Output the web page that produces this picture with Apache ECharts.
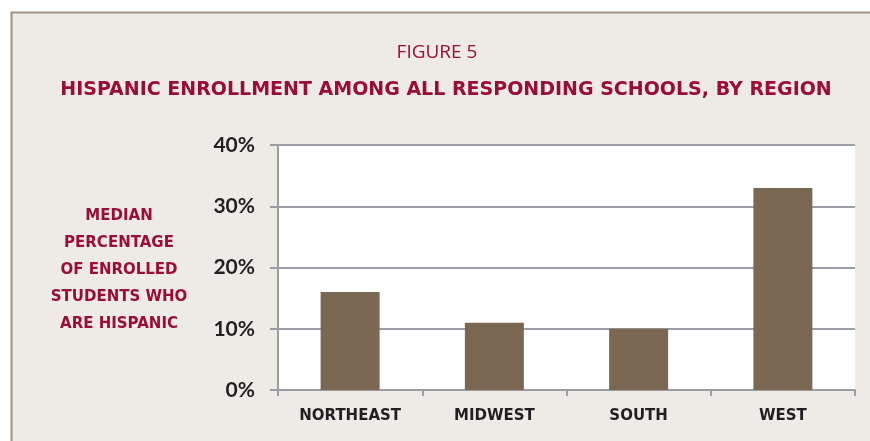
<!DOCTYPE html>
<html>
<head>
<meta charset="utf-8" />
<title>Figure 5</title>
<script src="https://cdn.jsdelivr.net/npm/echarts@6.0.0/dist/echarts.min.js"></script>
<style>
  html, body { margin: 0; padding: 0; background: #ffffff; }
</style>
</head>
<body>
<div id="main" style="width: 870px;height:441px;"></div>
<script type="text/javascript">
// data
const regions = ['NORTHEAST', 'MIDWEST', 'SOUTH', 'WEST'];
const medianHispanic = [16, 11, 10, 33];
const yTicks = [0, 10, 20, 30, 40];

const crimson = '#9b0d34';
const gridGrey = '#9a9da4';

let myChart = echarts.init(document.getElementById('main'));
let option = {
    backgroundColor: 'transparent',
    graphic: [
        {
            type: 'rect',
            z: -10,
            shape: {x: 11.5, y: 12.5, width: 870, height: 440},
            style: {fill: '#eeebe7', stroke: '#a09483', lineWidth: 2}
        },
        {
            type: 'text',
            x: 437,
            y: 43,
            style: {
                text: 'FIGURE 5',
                fill: crimson,
                align: 'center',
                verticalAlign: 'top',
                font: '19px "Open Sans", sans-serif'
            }
        },
        {
            type: 'text',
            x: 446,
            y: 81,
            style: {
                text: 'HISPANIC ENROLLMENT AMONG ALL RESPONDING SCHOOLS, BY REGION',
                fill: crimson,
                align: 'center',
                verticalAlign: 'top',
                font: 'bold 19px "DejaVu Sans", sans-serif'
            }
        },
        {
            type: 'text',
            x: 119,
            y: 203,
            style: {
                text: 'MEDIAN\nPERCENTAGE\nOF ENROLLED\nSTUDENTS WHO\nARE HISPANIC',
                fill: crimson,
                align: 'center',
                verticalAlign: 'top',
                lineHeight: 27,
                font: 'bold 15px "DejaVu Sans", sans-serif'
            }
        }
    ],
    grid: {
        left: 278,
        right: 15,
        top: 145,
        bottom: 51,
        show: true,
        backgroundColor: '#ffffff',
        borderWidth: 0
    },
    xAxis: {
        type: 'category',
        data: regions,
        axisLine: {show: true, lineStyle: {color: gridGrey, width: 2}},
        axisTick: {show: true, length: 6, lineStyle: {color: gridGrey, width: 2}},
        axisLabel: {
            margin: 19,
            color: '#231f20',
            fontFamily: '"DejaVu Sans", sans-serif',
            fontWeight: 'bold',
            fontSize: 15
        }
    },
    yAxis: {
        type: 'value',
        min: 0,
        max: 40,
        interval: 10,
        axisLine: {show: true, lineStyle: {color: gridGrey, width: 2}},
        axisTick: {show: true, inside: false, length: 8, lineStyle: {color: gridGrey, width: 2}},
        splitLine: {show: true, lineStyle: {color: gridGrey, width: 2}},
        axisLabel: {
            margin: 23,
            color: '#231f20',
            fontFamily: '"Lato", sans-serif',
            fontWeight: 'bold',
            fontSize: 21,
            formatter: function (v) { return yTicks.indexOf(v) >= 0 ? v + '%' : ''; }
        }
    },
    series: [
        {
            type: 'bar',
            data: medianHispanic,
            barWidth: 59,
            itemStyle: {color: '#7a6853'},
            z: 1
        }
    ]
};
myChart.setOption(option);
</script>
</body>
</html>
